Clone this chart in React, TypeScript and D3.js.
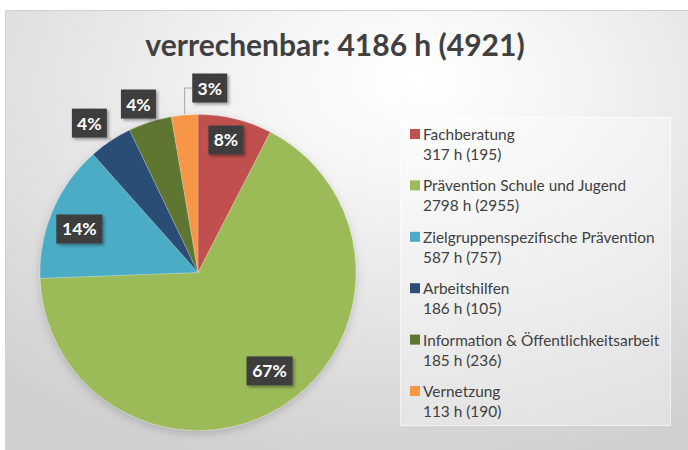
import React from "react";
import * as d3 from "d3";

const title = "verrechenbar: 4186 h (4921)";
const categories = [
  "Fachberatung",
  "Prävention Schule und Jugend",
  "Zielgruppenspezifische Prävention",
  "Arbeitshilfen",
  "Information & Öffentlichkeitsarbeit",
  "Vernetzung",
];
const hours = [317, 2798, 587, 186, 185, 113];
const previous = [195, 2955, 757, 105, 236, 190];
const colors = ["#C0504D", "#9BBB59", "#4BACC6", "#2C4D75", "#5F7530", "#F79646"];
// label placement: radius factor and angle offset (deg) relative to slice middle
const labelLayout = [
  { r: 0.857, da: -1.75 },
  { r: 0.77, da: -3.6 },
  { r: 0.8, da: -3.0 },
  { r: 1.169, da: -2.4 },
  { r: 1.131, da: -1.8 },
  { r: 1.17, da: 8.5 },
];

const W = 688;
const H = 450;
const cx = 198;
const cy = 272.5;
const R = 158;

export default function App() {
  const pie = d3.pie<number>().sort(null).value((d) => d);
  const arcs = pie(hours);
  const arc = d3.arc<d3.PieArcDatum<number>>().innerRadius(0).outerRadius(R);
  const total = d3.sum(hours);
  const font = "Lato, 'Open Sans', sans-serif";

  const legendY0 = 129;
  const legendStep = 51.4;

  return (
    <svg
      width={W}
      height={H}
      style={{ position: "absolute", left: 0, top: 0, display: "block" }}
    >
      <defs>
        <radialGradient id="bg" cx="0.55" cy="0.2" r="0.85" fx="0.6" fy="0.15">
          <stop offset="0" stopColor="#ffffff" />
          <stop offset="0.3" stopColor="#f3f3f3" />
          <stop offset="1" stopColor="#cfcfcf" />
        </radialGradient>
        <pattern id="dots" width="4" height="4" patternUnits="userSpaceOnUse">
          <rect width="4" height="4" fill="#3d3d3d" />
          <circle cx="1" cy="1" r="0.6" fill="#4a4a4a" />
        </pattern>
        <filter id="shadow" x="-20%" y="-20%" width="150%" height="150%">
          <feDropShadow dx="2" dy="2" stdDeviation="1.5" floodColor="#000" floodOpacity="0.35" />
        </filter>
        <filter id="pieShadow" x="-10%" y="-10%" width="120%" height="125%">
          <feDropShadow dx="0" dy="3" stdDeviation="4" floodColor="#000" floodOpacity="0.18" />
        </filter>
      </defs>
      <rect x={0} y={0} width={W} height={H} fill="#ffffff" />
      <rect x={5.5} y={10.5} width={W} height={H} fill="url(#bg)" stroke="#d0d0d0" strokeWidth={1} />

      <text
        x={335}
        y={56}
        textAnchor="middle"
        fontFamily={font}
        fontWeight="bold"
        fontSize={30}
        fill="#404040"
      >
        {title}
      </text>

      <g transform={`translate(${cx},${cy})`} filter="url(#pieShadow)">
        {arcs.map((a, i) => (
          <path key={i} d={arc(a) || ""} fill={colors[i]} stroke="#ffffff" strokeOpacity={0.4} strokeWidth={0.5} />
        ))}
      </g>

      {arcs.map((a, i) => {
        const mid = (a.startAngle + a.endAngle) / 2 + (labelLayout[i].da * Math.PI) / 180;
        const rr = R * labelLayout[i].r;
        const lx = cx + rr * Math.sin(mid);
        const ly = cy - rr * Math.cos(mid);
        const pct = Math.round((hours[i] / total) * 100) + "%";
        const bw = pct.length > 2 ? 46 : 35;
        const bh = 29;
        const m = (a.startAngle + a.endAngle) / 2;
        const ex = cx + R * Math.sin(m);
        const ey = cy - R * Math.cos(m);
        let leader: string | null = null;
        if (labelLayout[i].r > 1) {
          const bottom = ly + bh / 2;
          const left = lx - bw / 2;
          if (ex < left) {
            leader = `M${ex},${ey - 1}L${ex},${ly}L${left},${ly}`;
          } else if (ey > bottom) {
            leader = `M${ex},${ey - 1}L${ex},${bottom}`;
          }
        }
        return (
          <g key={i}>
            {leader && <path d={leader} fill="none" stroke="#a6a6a6" strokeWidth={1} />}
            <rect
              x={lx - bw / 2}
              y={ly - bh / 2}
              width={bw}
              height={bh}
              fill="url(#dots)"
              filter="url(#shadow)"
            />
            <text
              x={lx}
              y={ly + 6.5}
              textAnchor="middle"
              fontFamily={font}
              fontWeight="bold"
              fontSize={17.5}
              fill="#ffffff"
            >
              {pct}
            </text>
          </g>
        );
      })}

      <rect x={400.5} y={117.5} width={270} height={308} fill="#ffffff" fillOpacity={0.35} stroke="#ffffff" strokeOpacity={0.6} />
      {categories.map((c, i) => {
        const y = legendY0 + i * legendStep;
        return (
          <g key={c}>
            <rect x={410} y={y} width={10} height={10} fill={colors[i]} />
            <text x={423} y={y + 11} fontFamily={font} fontSize={15.4} fill="#404040">
              {c}
            </text>
            <text x={423} y={y + 31} fontFamily={font} fontSize={15.4} fill="#404040">
              {`${hours[i]} h (${previous[i]})`}
            </text>
          </g>
        );
      })}
    </svg>
  );
}
